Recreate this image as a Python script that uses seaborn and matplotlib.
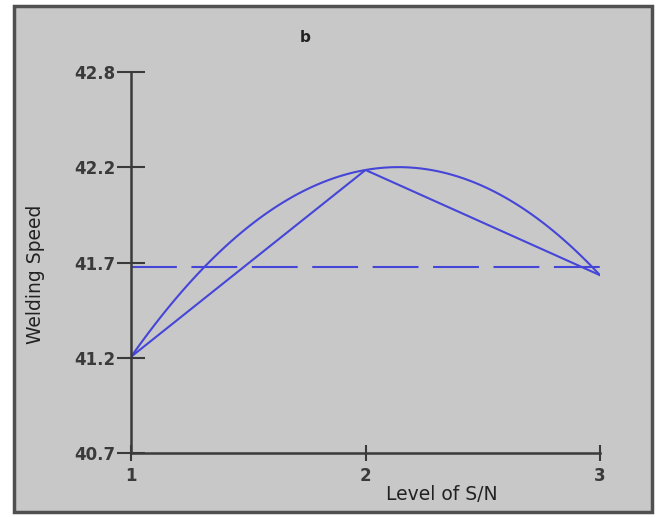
import numpy as np
import pandas as pd
import matplotlib.pyplot as plt
import seaborn as sns
from matplotlib.patches import Rectangle

# Main effect of S/N level on welding speed
levels = [1, 2, 3]
speed = [41.23, 42.26, 41.68]
y_ticks = [40.7, 41.225, 41.75, 42.275, 42.8]
y_tick_labels = ["40.7", "41.2", "41.7", "42.2", "42.8"]
x_tick_labels = ["1", "2", "3"]


def main():
    df = pd.DataFrame({"level": levels, "speed": speed})

    sns.set_theme(style="ticks")
    plt.rcParams['font.family'] = ['DejaVu Sans']

    fig = plt.figure(figsize=(6.59, 5.17), dpi=100)
    fig.patch.set_facecolor("white")

    # gray panel with dark frame around the whole plot
    fig.patches.append(Rectangle((0.0212, 0.0097), 0.968, 0.9787,
                                 transform=fig.transFigure, facecolor="#c8c8c8",
                                 edgecolor="#505050", linewidth=2.5, zorder=-5))

    ax = fig.add_axes([0.1988, 0.1238, 0.7117, 0.7369])
    ax.set_facecolor("none")
    blue = "#4545d8"

    # fitted curve through the level means
    sns.regplot(data=df, x="level", y="speed", order=2, ci=None, scatter=False,
                truncate=True, line_kws={"color": blue, "lw": 1.5}, ax=ax)
    # straight segments
    sns.lineplot(data=df, x="level", y="speed", color=blue, lw=1.5, ax=ax)
    # overall mean
    ax.axhline(np.mean(speed), color=blue, lw=1.5, dashes=(22, 7))

    ax.set_xlim(1, 3)
    ax.set_ylim(40.7, 42.8)
    ax.set_xticks(levels)
    ax.set_xticklabels(x_tick_labels)
    ax.set_yticks(y_ticks)
    ax.set_yticklabels(y_tick_labels)

    for side in ["top", "right"]:
        ax.spines[side].set_visible(False)
    for side in ["left", "bottom"]:
        ax.spines[side].set_color("#3a3a3a")
        ax.spines[side].set_linewidth(1.8)

    ax.tick_params(axis="y", direction="inout", length=20, width=1.5,
                   color="#3a3a3a", pad=1, labelsize=12, labelcolor="#3a3a3a")
    ax.tick_params(axis="x", direction="inout", length=12, width=1.5,
                   color="#3a3a3a", pad=4, labelsize=12, labelcolor="#3a3a3a")
    for lab in ax.get_yticklabels() + ax.get_xticklabels():
        lab.set_fontweight("bold")

    ax.set_xlabel("Level of S/N", fontsize=13.5, color="#222222")
    ax.xaxis.set_label_coords(0.663, -0.083)
    ax.set_ylabel("Welding Speed", fontsize=13.5, color="#222222")
    ax.yaxis.set_label_coords(-0.183, 0.47)

    fig.text(305 / 659, 1 - 37 / 517, "b", ha="center", va="center",
             fontsize=11, fontweight="bold", color="#222222")

    fig.savefig("out.png", dpi=100)


if __name__ == "__main__":
    main()
